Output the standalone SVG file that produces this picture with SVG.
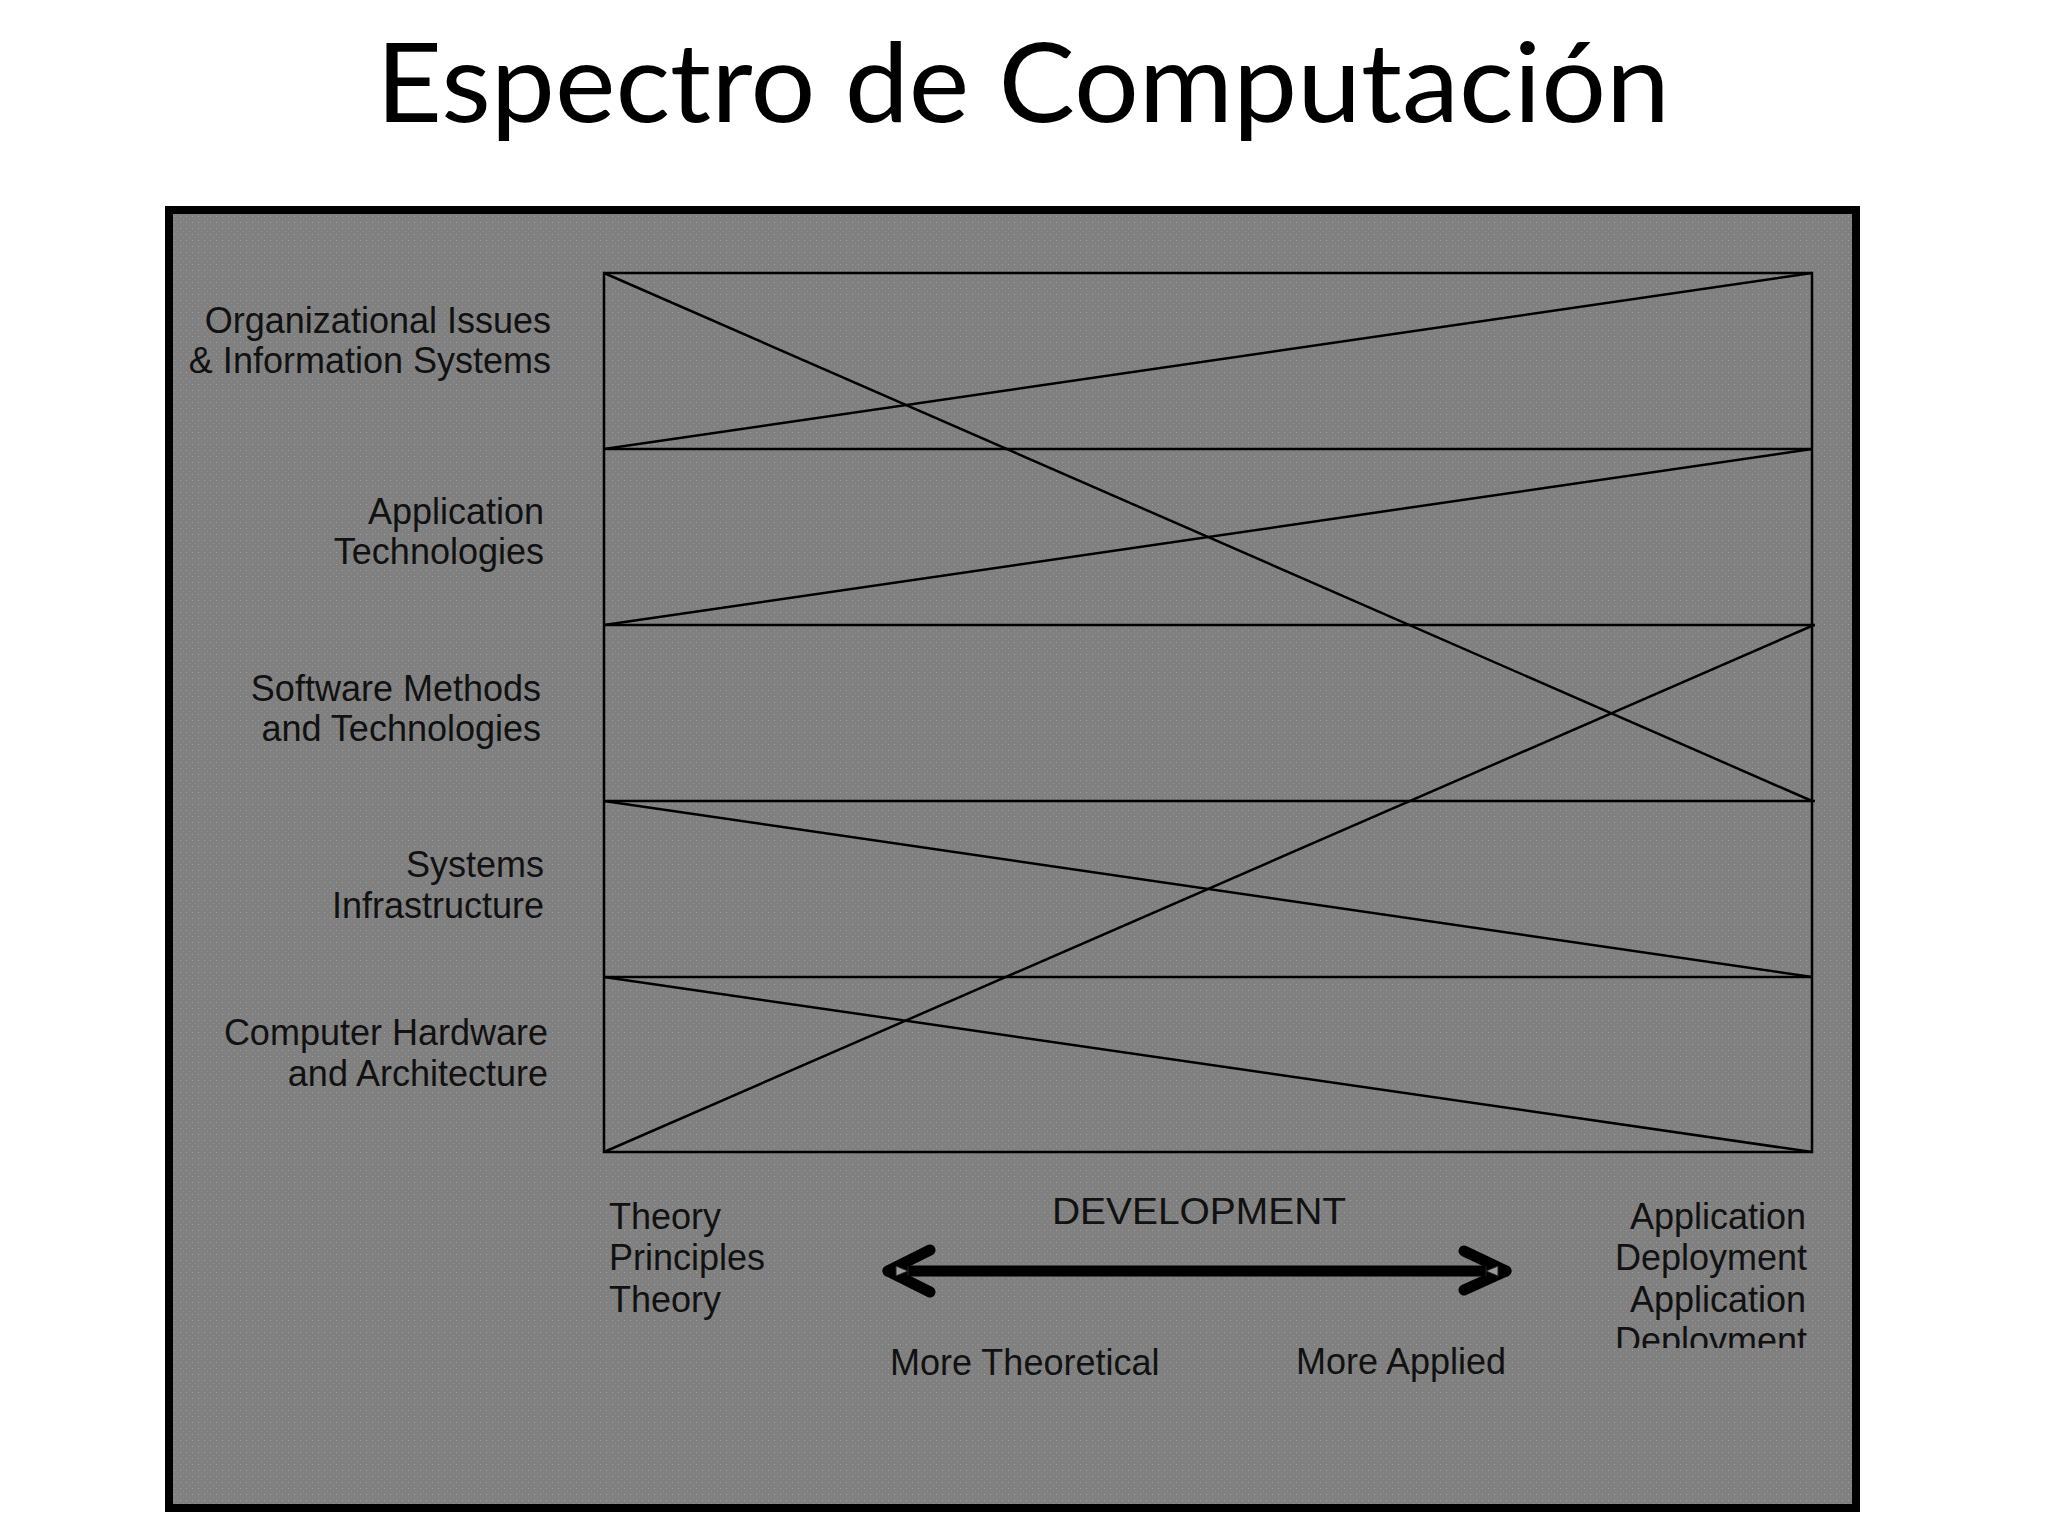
<svg xmlns="http://www.w3.org/2000/svg" width="2048" height="1536" viewBox="0 0 2048 1536">
  <style>
    .lbl { font-family: "Liberation Sans", Arial, sans-serif; font-size: 36px; fill: #111; }
    .r { text-anchor: end; }
    .grid { stroke: #000; stroke-width: 2.5; fill: none; }
    .arrow { stroke: #000; stroke-width: 11; stroke-linecap: round; stroke-linejoin: round; fill: none; }
    .tip { fill: #9a9a9a; stroke: #222; stroke-width: 1; }
  </style>
  <defs>
    <pattern id="dots" width="6" height="6" patternUnits="userSpaceOnUse">
      <rect width="6" height="6" fill="#808080"/>
      <rect x="0" y="0" width="1" height="1" fill="#a0a0a0"/>
      <rect x="3" y="3" width="1" height="1" fill="#8e8e8e"/>
    </pattern>
    <clipPath id="clipDeploy">
      <rect x="1500" y="1150" width="340" height="198"/>
    </clipPath>
  </defs>
  <rect width="2048" height="1536" fill="#ffffff"/>

  <g id="title">
    <text x="376" y="122" font-family="Lato, 'Open Sans', sans-serif" font-size="110" fill="#000" textLength="1294" lengthAdjust="spacingAndGlyphs">Espectro de Computación</text>
  </g>

  <g id="frame">
    <rect x="169" y="210" width="1687" height="1298" fill="url(#dots)" stroke="#000" stroke-width="8"/>
  </g>

  <g id="grid">
    <rect class="grid" x="604" y="273" width="1208" height="879"/>
    <line class="grid" x1="604" y1="449" x2="1812" y2="449"/>
    <line class="grid" x1="604" y1="625" x2="1815" y2="625"/>
    <line class="grid" x1="604" y1="801" x2="1815" y2="801"/>
    <line class="grid" x1="604" y1="977" x2="1812" y2="977"/>
  </g>

  <g id="connectors">
    <line class="grid" x1="604" y1="273" x2="1812" y2="801"/>
    <line class="grid" x1="604" y1="449" x2="1812" y2="273"/>
    <line class="grid" x1="604" y1="625" x2="1812" y2="449"/>
    <line class="grid" x1="604" y1="1152" x2="1814" y2="625"/>
    <line class="grid" x1="604" y1="801" x2="1812" y2="977"/>
    <line class="grid" x1="604" y1="977" x2="1812" y2="1152"/>
  </g>

  <g id="row-labels">
    <g id="row1">
      <text class="lbl r" x="551" y="333">Organizational Issues</text>
      <text class="lbl r" x="551" y="373">&amp; Information Systems</text>
    </g>
    <g id="row2">
      <text class="lbl r" x="544" y="524">Application</text>
      <text class="lbl r" x="544" y="564">Technologies</text>
    </g>
    <g id="row3">
      <text class="lbl r" x="541" y="701">Software Methods</text>
      <text class="lbl r" x="541" y="741">and Technologies</text>
    </g>
    <g id="row4">
      <text class="lbl r" x="544" y="877">Systems</text>
      <text class="lbl r" x="544" y="918">Infrastructure</text>
    </g>
    <g id="row5">
      <text class="lbl r" x="548" y="1045">Computer Hardware</text>
      <text class="lbl r" x="548" y="1086">and Architecture</text>
    </g>
  </g>

  <g id="theory-label">
    <text class="lbl" x="609" y="1229" font-size="35">Theory</text>
    <text class="lbl" x="609" y="1270" font-size="35">Principles</text>
    <text class="lbl" x="609" y="1312" font-size="35">Theory</text>
  </g>

  <g id="application-label" clip-path="url(#clipDeploy)">
    <text class="lbl r" x="1806" y="1229">Application</text>
    <text class="lbl r" x="1807" y="1270">Deployment</text>
    <text class="lbl r" x="1806" y="1312">Application</text>
    <text class="lbl r" x="1807" y="1353">Deployment</text>
  </g>

  <g id="development">
    <text class="lbl" x="1052" y="1224" font-size="39" textLength="294" lengthAdjust="spacingAndGlyphs">DEVELOPMENT</text>
    <g id="dev-arrow">
      <line class="arrow" x1="888" y1="1271" x2="1506" y2="1271"/>
      <polyline class="arrow" points="930,1250 888,1271 930,1292"/>
      <polyline class="arrow" points="1464,1251 1506,1271 1464,1290"/>
      <path class="tip" d="M896 1266 l12 5 l-12 5 z M908 1266 l0 10"/>
      <path class="tip" d="M1498 1266 l-12 5 l12 5 z M1486 1266 l0 10"/>
    </g>
    <text class="lbl" x="890" y="1375" font-size="35">More Theoretical</text>
    <text class="lbl" x="1296" y="1374" font-size="35">More Applied</text>
  </g>
</svg>
